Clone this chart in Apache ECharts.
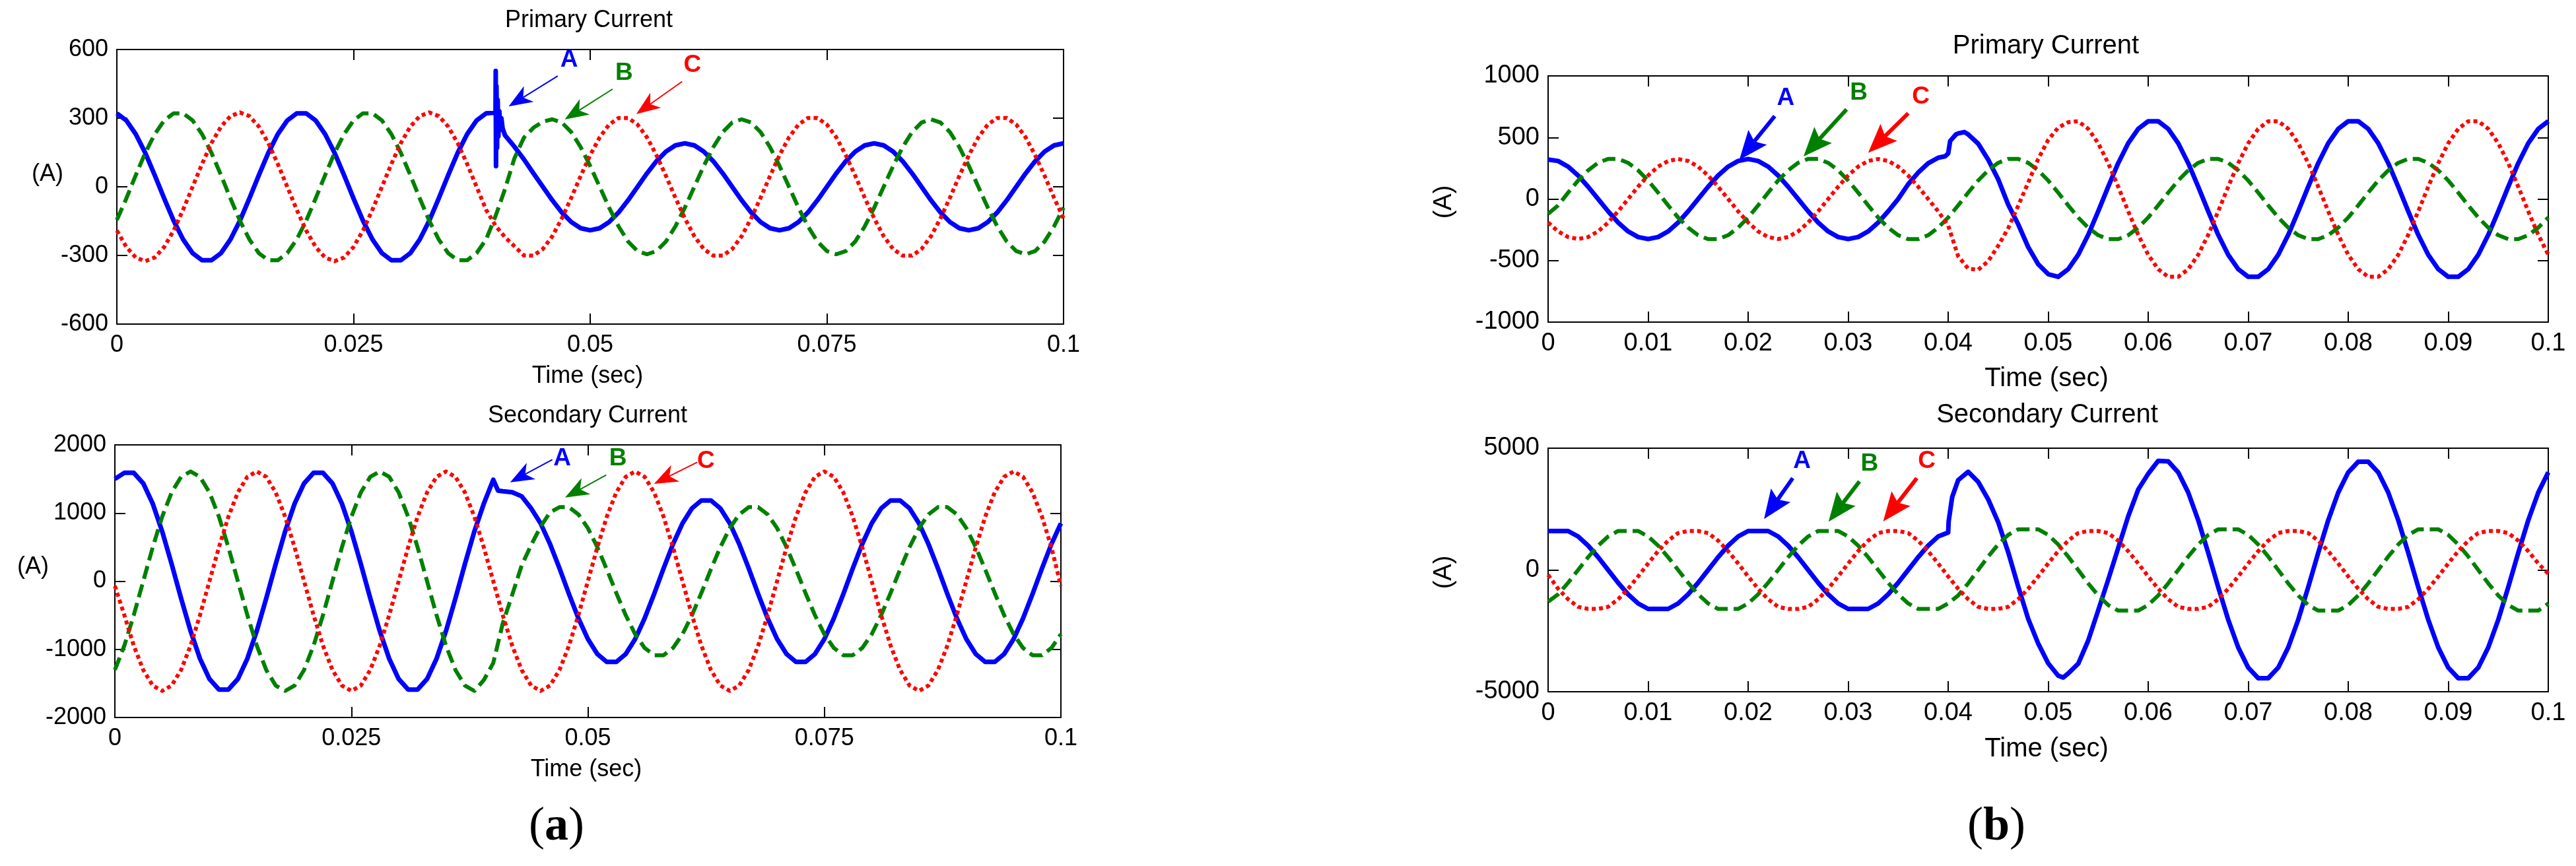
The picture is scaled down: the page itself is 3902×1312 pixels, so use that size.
<!DOCTYPE html>
<html>
<head>
<meta charset="utf-8">
<title>Primary and secondary currents</title>
<script src="https://cdn.jsdelivr.net/npm/echarts@6/dist/echarts.min.js"></script>
<style>
  html, body { margin: 0; padding: 0; background: #fff; }
  #chart { width: 3902px; height: 1312px; }
</style>
</head>
<body>
<div id="chart"></div>
<script>
// sample times in ms (axis shows seconds)
const tMs = [
  0, 1, 2, 3, 4, 5, 6, 7, 8, 9, 10, 11, 12, 13, 14, 15, 16, 17, 18, 19,
  20, 21, 22, 23, 24, 25, 26, 27, 28, 29, 30, 31, 32, 33, 34, 35, 36, 37, 38, 39,
  40, 41, 42, 43, 44, 45, 46, 47, 48, 49, 50, 51, 52, 53, 54, 55, 56, 57, 58, 59,
  60, 61, 62, 63, 64, 65, 66, 67, 68, 69, 70, 71, 72, 73, 74, 75, 76, 77, 78, 79,
  80, 81, 82, 83, 84, 85, 86, 87, 88, 89, 90, 91, 92, 93, 94, 95, 96, 97, 98, 99,
  100
];

// (a) primary current, phases A/B/C (A)
const aPriA = [
  321, 290, 230, 148, 51, -51, -148, -230, -290, -321,
  -321, -290, -230, -148, -51, 51, 148, 230, 290, 321,
  321, 290, 230, 148, 51, -51, -148, -230, -290, -321,
  -321, -290, -230, -148, -51, 51, 148, 230, 290, 321,
  325, 225, 175, 120, 59, 0, -59, -112, -154, -181,
  -190, -181, -154, -112, -59, 0, 59, 112, 154, 181,
  190, 181, 154, 112, 59, 0, -59, -112, -154, -181,
  -190, -181, -154, -112, -59, 0, 59, 112, 154, 181,
  190, 181, 154, 112, 59, 0, -59, -112, -154, -181,
  -190, -181, -154, -112, -59, 0, 59, 112, 154, 181,
  190
];
// switching transient on phase A
const aPriAFaultT = [40.02, 40.05, 40.1, 40.16, 40.23, 40.3, 40.4, 40.5, 40.62, 40.75];
const aPriAFaultV = [506, 90, 440, 170, 380, 220, 330, 250, 300, 255];
const aPriB = [
  -145, -51, 51, 148, 230, 290, 321, 321, 290, 230,
  148, 51, -51, -148, -230, -290, -321, -321, -290, -230,
  -148, -51, 51, 148, 230, 290, 321, 321, 290, 230,
  148, 51, -51, -148, -230, -290, -321, -321, -290, -230,
  -128, -10, 125, 215, 258, 285, 295, 281, 239, 173,
  91, 0, -91, -173, -239, -281, -295, -281, -239, -173,
  -91, 0, 91, 173, 239, 281, 295, 281, 239, 173,
  91, 0, -91, -173, -239, -281, -295, -281, -239, -173,
  -91, 0, 91, 173, 239, 281, 295, 281, 239, 173,
  91, 0, -91, -173, -239, -281, -295, -281, -239, -173,
  -91
];
const aPriC = [
  -191, -263, -309, -325, -309, -263, -191, -100, 0, 100,
  191, 263, 309, 325, 309, 263, 191, 100, 0, -100,
  -191, -263, -309, -325, -309, -263, -191, -100, 0, 100,
  191, 263, 309, 325, 309, 263, 191, 100, 0, -100,
  -170, -220, -260, -300, -301, -272, -216, -138, -48, 48,
  138, 216, 272, 301, 301, 272, 216, 138, 48, -48,
  -138, -216, -272, -301, -301, -272, -216, -138, -48, 48,
  138, 216, 272, 301, 301, 272, 216, 138, 48, -48,
  -138, -216, -272, -301, -301, -272, -216, -138, -48, 48,
  138, 216, 272, 301, 301, 272, 216, 138, 48, -48,
  -138
];

// (a) secondary current (A)
const aSecA = [
  1500, 1590, 1590, 1435, 1138, 731, 252, -252, -731, -1138,
  -1435, -1590, -1590, -1435, -1138, -731, -252, 252, 731, 1138,
  1435, 1590, 1590, 1435, 1138, 731, 252, -252, -731, -1138,
  -1435, -1590, -1590, -1435, -1138, -731, -252, 252, 731, 1138,
  1488, 1320, 1305, 1246, 1069, 849, 545, 188, -188, -545,
  -849, -1069, -1185, -1185, -1069, -849, -545, -188, 188, 545,
  849, 1069, 1185, 1185, 1069, 849, 545, 188, -188, -545,
  -849, -1069, -1185, -1185, -1069, -849, -545, -188, 188, 545,
  849, 1069, 1185, 1185, 1069, 849, 545, 188, -188, -545,
  -849, -1069, -1185, -1185, -1069, -849, -545, -188, 188, 545,
  849
];
const aSecAFaultT = [40.5];
const aSecAFaultV = [1330];
const aSecB = [
  -1302, -946, -497, 0, 497, 946, 1302, 1531, 1610, 1531,
  1302, 946, 497, 0, -497, -946, -1302, -1531, -1610, -1531,
  -1302, -946, -497, 0, 497, 946, 1302, 1531, 1610, 1531,
  1302, 946, 497, 0, -497, -946, -1302, -1531, -1610, -1450,
  -1200, -620, -200, 230, 530, 800, 1010, 1086, 1086, 980,
  778, 499, 172, -172, -499, -778, -980, -1086, -1086, -980,
  -778, -499, -172, 172, 499, 778, 980, 1086, 1086, 980,
  778, 499, 172, -172, -499, -778, -980, -1086, -1086, -980,
  -778, -499, -172, 172, 499, 778, 980, 1086, 1086, 980,
  778, 499, 172, -172, -499, -778, -980, -1086, -1086, -980,
  -778
];
const aSecC = [
  -70, -497, -946, -1302, -1531, -1610, -1531, -1302, -946, -497,
  0, 497, 946, 1302, 1531, 1610, 1531, 1302, 946, 497,
  0, -497, -946, -1302, -1531, -1610, -1531, -1302, -946, -497,
  0, 497, 946, 1302, 1531, 1610, 1531, 1302, 946, 497,
  0, -497, -946, -1302, -1531, -1610, -1531, -1302, -946, -497,
  0, 497, 946, 1302, 1531, 1610, 1531, 1302, 946, 497,
  0, -497, -946, -1302, -1531, -1610, -1531, -1302, -946, -497,
  0, 497, 946, 1302, 1531, 1610, 1531, 1302, 946, 497,
  0, -497, -946, -1302, -1531, -1610, -1531, -1302, -946, -497,
  0, 497, 946, 1302, 1531, 1610, 1531, 1302, 946, 497,
  -70
];

// (b) primary current (A)
const bPriA = [
  320, 309, 263, 191, 100, 0, -100, -191, -263, -309,
  -325, -309, -263, -191, -100, 0, 100, 191, 263, 309,
  325, 309, 263, 191, 100, 0, -100, -191, -263, -309,
  -325, -309, -263, -191, -100, 0, 120, 215, 290, 335,
  370, 533, 525, 450, 320, 160, -45, -205, -390, -530,
  -610, -632, -570, -453, -291, -100, 100, 291, 453, 570,
  632, 632, 570, 453, 291, 100, -100, -291, -453, -570,
  -632, -632, -570, -453, -291, -100, 100, 291, 453, 570,
  632, 632, 570, 453, 291, 100, -100, -291, -453, -570,
  -632, -632, -570, -453, -291, -100, 100, 291, 453, 570,
  632
];
const bPriAFaultT = [39.7, 40.2, 40.8, 41.6];
const bPriAFaultV = [347, 472, 526, 544];
const bPriB = [
  -120, -52, 52, 150, 233, 294, 326, 326, 294, 233,
  150, 52, -52, -150, -233, -294, -326, -326, -294, -233,
  -150, -52, 52, 150, 233, 294, 326, 326, 294, 233,
  150, 52, -52, -150, -233, -294, -326, -326, -294, -233,
  -150, -52, 52, 150, 233, 294, 326, 326, 294, 233,
  150, 52, -52, -150, -233, -294, -326, -326, -294, -233,
  -150, -52, 52, 150, 233, 294, 326, 326, 294, 233,
  150, 52, -52, -150, -233, -294, -326, -326, -294, -233,
  -150, -52, 52, 150, 233, 294, 326, 326, 294, 233,
  150, 52, -52, -150, -233, -294, -326, -326, -294, -233,
  -150
];
const bPriC = [
  -191, -263, -309, -325, -309, -263, -191, -100, 0, 100,
  191, 263, 309, 325, 309, 263, 191, 100, 0, -100,
  -191, -263, -309, -325, -309, -263, -191, -100, 0, 100,
  191, 263, 309, 325, 309, 263, 191, 100, 0, -100,
  -215, -465, -565, -575, -505, -380, -238, -55, 133, 325,
  480, 580, 624, 632, 570, 453, 291, 100, -100, -291,
  -453, -570, -632, -632, -570, -453, -291, -100, 100, 291,
  453, 570, 632, 632, 570, 453, 291, 100, -100, -291,
  -453, -570, -632, -632, -570, -453, -291, -100, 100, 291,
  453, 570, 632, 632, 570, 453, 291, 100, -100, -291,
  -453
];

// (b) secondary current (A)
const bSecA = [
  1600, 1600, 1600, 1375, 999, 525, 0, -525, -999, -1375,
  -1600, -1600, -1600, -1375, -999, -525, 0, 525, 999, 1375,
  1600, 1600, 1600, 1375, 999, 525, 0, -525, -999, -1375,
  -1600, -1600, -1600, -1375, -999, -525, 0, 525, 999, 1375,
  1540, 3690, 4030, 3620, 2900, 1960, 730, -680, -2005, -3020,
  -3830, -4340, -4250, -3850, -2900, -1660, -400, 900, 2200, 3300,
  3950, 4480, 4460, 4010, 3182, 2043, 704, -704, -2043, -3182,
  -4010, -4445, -4445, -4010, -3182, -2043, -704, 704, 2043, 3182,
  4010, 4445, 4445, 4010, 3182, 2043, 704, -704, -2043, -3182,
  -4010, -4445, -4445, -4010, -3182, -2043, -704, 704, 2043, 3182,
  4010
];
const bSecAFaultT = [40.05, 40.4, 51.5];
const bSecAFaultV = [2000, 2995, -4415];
const bSecB = [
  -1300, -999, -525, 0, 525, 999, 1375, 1600, 1600, 1600,
  1375, 999, 525, 0, -525, -999, -1375, -1600, -1600, -1600,
  -1375, -999, -525, 0, 525, 999, 1375, 1600, 1600, 1600,
  1375, 999, 525, 0, -525, -999, -1375, -1600, -1600, -1600,
  -1375, -1046, -550, 0, 550, 1046, 1440, 1670, 1670, 1670,
  1440, 1046, 550, 0, -550, -1046, -1440, -1670, -1670, -1670,
  -1440, -1046, -550, 0, 550, 1046, 1440, 1670, 1670, 1670,
  1440, 1046, 550, 0, -550, -1046, -1440, -1670, -1670, -1670,
  -1440, -1046, -550, 0, 550, 1046, 1440, 1670, 1670, 1670,
  1440, 1046, 550, 0, -550, -1046, -1440, -1670, -1670, -1670,
  -1380
];
const bSecC = [
  -200, -772, -1202, -1515, -1600, -1600, -1515, -1202, -772, -266,
  266, 772, 1202, 1515, 1600, 1600, 1515, 1202, 772, 266,
  -266, -772, -1202, -1515, -1600, -1600, -1515, -1202, -772, -266,
  266, 772, 1202, 1515, 1600, 1600, 1515, 1202, 772, 266,
  -266, -772, -1202, -1515, -1600, -1600, -1515, -1202, -772, -266,
  266, 772, 1202, 1515, 1600, 1600, 1515, 1202, 772, 266,
  -266, -772, -1202, -1515, -1600, -1600, -1515, -1202, -772, -266,
  266, 772, 1202, 1515, 1600, 1600, 1515, 1202, 772, 266,
  -266, -772, -1202, -1515, -1600, -1600, -1515, -1202, -772, -266,
  266, 772, 1202, 1515, 1600, 1600, 1515, 1202, 772, 266,
  -150
];

// phase label arrows, [time ms, current A]
const phaseNames = ['A', 'B', 'C'];
const aPriArrowTail = [[46.57, 484], [52.36, 427], [59.71, 460]];
const aPriArrowTip = [[41.38, 351], [47.31, 294], [54.87, 318]];
const aPriLabelAt = [[47.78, 554], [53.59, 496], [60.8, 530]];
const aSecArrowTail = [[46.24, 1783], [51.94, 1557], [61.55, 1744]];
const aSecArrowTip = [[41.78, 1451], [47.59, 1228], [56.99, 1429]];
const aSecLabelAt = [[47.29, 1800], [53.18, 1800], [62.48, 1758]];
const bPriArrowTail = [[22.66, 673], [29.84, 728], [36.01, 697]];
const bPriArrowTip = [[19.12, 318], [25.54, 346], [32.0, 375]];
const bPriLabelAt = [[23.75, 817], [31.06, 862], [37.27, 831]];
const bSecArrowTail = [[24.46, 3770], [31.13, 3634], [36.87, 3770]];
const bSecArrowTip = [[21.59, 2092], [28.04, 1978], [33.5, 1990]];
const bSecLabelAt = [[25.39, 4450], [32.13, 4358], [37.87, 4450]];

const SANS = '"Liberation Sans", Arial, sans-serif';
const SERIF = '"Liberation Serif", "Times New Roman", serif';
const colors = ['#0000ff', '#008000', '#ff0000'];
const lineTypes = [
  { width: 7, type: 'solid' },
  { width: 6, type: [20, 9] },
  { width: 6, type: [6, 5] }
];

const panels = [
  {
    grid: { left: 177, top: 75, width: 1434, height: 416 },
    yMin: -600, yMax: 600, yStep: 300, xStep: 25, fontSize: 36,
    phases: [[aPriA, aPriAFaultT, aPriAFaultV], [aPriB], [aPriC]],
    tail: aPriArrowTail, tip: aPriArrowTip, labelAt: aPriLabelAt,
    arrow: { lw: 2, len: 36, wid: 28, notch: 0.72 }
  },
  {
    grid: { left: 174, top: 674, width: 1433, height: 413 },
    yMin: -2000, yMax: 2000, yStep: 1000, xStep: 25, fontSize: 36,
    phases: [[aSecA, aSecAFaultT, aSecAFaultV], [aSecB], [aSecC]],
    tail: aSecArrowTail, tip: aSecArrowTip, labelAt: aSecLabelAt,
    arrow: { lw: 2, len: 36, wid: 28, notch: 0.72 }
  },
  {
    grid: { left: 2345, top: 115, width: 1515, height: 373 },
    yMin: -1000, yMax: 1000, yStep: 500, xStep: 10, fontSize: 38,
    phases: [[bPriA, bPriAFaultT, bPriAFaultV], [bPriB], [bPriC]],
    tail: bPriArrowTail, tip: bPriArrowTip, labelAt: bPriLabelAt,
    arrow: { lw: 6, len: 44, wid: 36, notch: 0.82 }
  },
  {
    grid: { left: 2345, top: 679, width: 1515, height: 369 },
    yMin: -5000, yMax: 5000, yStep: 5000, xStep: 10, fontSize: 38,
    phases: [[bSecA, bSecAFaultT, bSecAFaultV], [bSecB], [bSecC]],
    tail: bSecArrowTail, tip: bSecArrowTip, labelAt: bSecLabelAt,
    arrow: { lw: 6, len: 44, wid: 36, notch: 0.82 }
  }
];

const staticTexts = [
  { text: 'Primary Current', x: 892, y: 31, size: 36 },
  { text: 'Time (sec)', x: 890, y: 570, size: 36 },
  { text: 'Secondary Current', x: 890, y: 630, size: 36 },
  { text: 'Time (sec)', x: 888, y: 1166, size: 36 },
  { text: '(A)', x: 72, y: 264, size: 36 },
  { text: '(A)', x: 50, y: 859, size: 36 },
  { text: 'Primary Current', x: 3099, y: 70, size: 40 },
  { text: 'Time (sec)', x: 3100, y: 574, size: 40 },
  { text: 'Secondary Current', x: 3101, y: 629, size: 40 },
  { text: 'Time (sec)', x: 3100, y: 1135, size: 40 },
  { text: '(A)', x: 2188, y: 306, size: 38, rotate: true },
  { text: '(A)', x: 2188, y: 867, size: 38, rotate: true }
];

function toPairs(vals, extraT, extraV) {
  const pts = tMs.map((t, i) => [t, vals[i]]);
  if (extraT) extraT.forEach((t, i) => pts.push([t, extraV[i]]));
  pts.sort((a, b) => a[0] - b[0]);
  return pts;
}

const secLabel = v => String(+(v / 1000).toFixed(3));
const ampLabel = v => String(v);

const grids = [], xAxes = [], yAxes = [], series = [];
panels.forEach((p, g) => {
  grids.push(Object.assign({ containLabel: false, outerBoundsMode: 'none' }, p.grid));
  const line = { show: true, onZero: false, lineStyle: { color: '#000', width: 2 } };
  const tick = { show: true, inside: true, length: 16, lineStyle: { color: '#000', width: 2 } };
  const label = { color: '#000', fontFamily: SANS, fontSize: p.fontSize };
  ['bottom', 'top'].forEach(pos => {
    xAxes.push({
      type: 'value', gridIndex: g, position: pos, min: 0, max: 100, interval: p.xStep,
      axisLine: line, axisTick: tick, splitLine: { show: false },
      axisLabel: pos === 'bottom'
        ? Object.assign({ margin: 14, formatter: secLabel }, label)
        : { show: false }
    });
  });
  ['left', 'right'].forEach(pos => {
    yAxes.push({
      type: 'value', gridIndex: g, position: pos, min: p.yMin, max: p.yMax, interval: p.yStep,
      axisLine: line, axisTick: tick, splitLine: { show: false },
      axisLabel: pos === 'left' ? Object.assign({ margin: 13, formatter: ampLabel }, label) : { show: false }
    });
  });
  p.phases.forEach((ph, k) => {
    series.push({
      name: phaseNames[k],
      type: 'line',
      xAxisIndex: 2 * g,
      yAxisIndex: 2 * g,
      data: toPairs(ph[0], ph[1], ph[2]),
      showSymbol: false,
      symbol: 'none',
      smooth: false,
      silent: true,
      z: 2 + k,
      lineStyle: { color: colors[k], width: lineTypes[k].width, type: lineTypes[k].type, cap: 'butt', join: 'round' }
    });
  });
});

const chart = echarts.init(document.getElementById('chart'));
chart.setOption({
  animation: false,
  backgroundColor: '#fff',
  grid: grids,
  xAxis: xAxes,
  yAxis: yAxes,
  series: series
});

const graphics = staticTexts.map(s => ({
  type: 'text',
  x: s.x,
  y: s.y,
  rotation: s.rotate ? Math.PI / 2 : 0,
  z: 50,
  style: {
    text: s.text, fill: '#000', font: s.size + 'px ' + SANS,
    align: 'center', verticalAlign: 'middle', textAlign: 'center', textVerticalAlign: 'middle'
  }
}));

[['a', 843], ['b', 3024]].forEach(([letter, x]) => {
  graphics.push({
    type: 'text', x: x, y: 1253, z: 50,
    style: {
      text: '{p|(}{b|' + letter + '}{p|)}',
      fill: '#000',
      align: 'center', verticalAlign: 'middle', textAlign: 'center', textVerticalAlign: 'middle',
      rich: {
        p: { fontFamily: SERIF, fontSize: 72, fill: '#000' },
        b: { fontFamily: SERIF, fontSize: 72, fontWeight: 'bold', fill: '#000' }
      }
    }
  });
});

panels.forEach((p, g) => {
  const finder = { xAxisIndex: 2 * g, yAxisIndex: 2 * g };
  p.tail.forEach((tailPt, k) => {
    const q = chart.convertToPixel(finder, tailPt);
    const t = chart.convertToPixel(finder, p.tip[k]);
    const c = chart.convertToPixel(finder, p.labelAt[k]);
    const dx = t[0] - q[0], dy = t[1] - q[1];
    const len = Math.hypot(dx, dy);
    const ux = dx / len, uy = dy / len, nx = -uy, ny = ux;
    const a = p.arrow;
    const bx = t[0] - ux * a.len, by = t[1] - uy * a.len;
    const notch = [t[0] - ux * a.len * a.notch, t[1] - uy * a.len * a.notch];
    graphics.push({
      type: 'line', z: 60,
      shape: { x1: q[0], y1: q[1], x2: notch[0], y2: notch[1] },
      style: { stroke: colors[k], lineWidth: a.lw }
    });
    graphics.push({
      type: 'polygon', z: 60,
      shape: { points: [t, [bx + nx * a.wid / 2, by + ny * a.wid / 2], notch, [bx - nx * a.wid / 2, by - ny * a.wid / 2]] },
      style: { fill: colors[k] }
    });
    graphics.push({
      type: 'text', x: c[0], y: c[1], z: 60,
      style: {
        text: phaseNames[k], fill: colors[k], font: 'bold 37px ' + SANS,
        align: 'center', verticalAlign: 'middle', textAlign: 'center', textVerticalAlign: 'middle'
      }
    });
  });
});

chart.setOption({ graphic: graphics });
</script>
</body>
</html>
